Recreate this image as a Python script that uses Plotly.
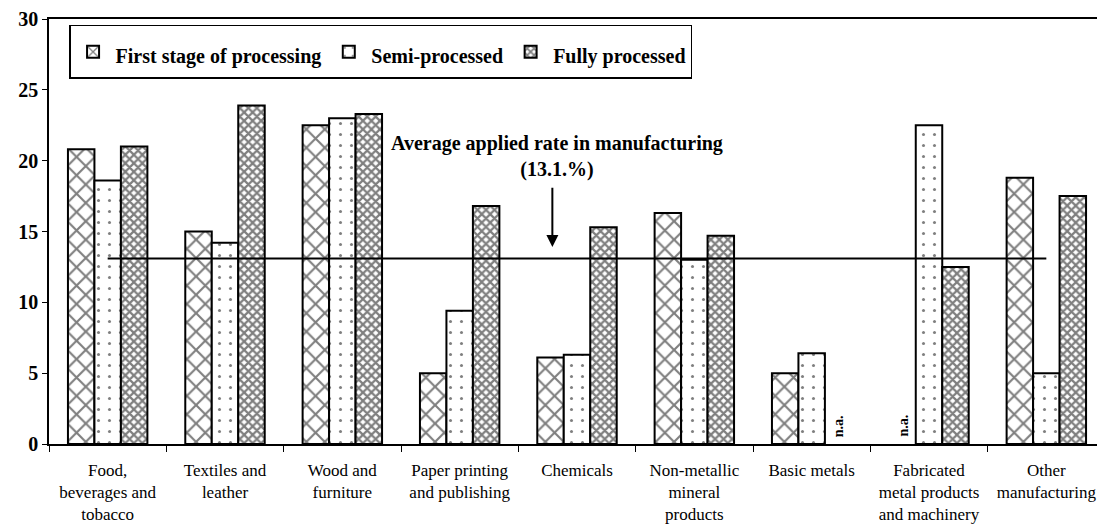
import plotly.graph_objects as go

categories = [
    "Food,<br>beverages and<br>tobacco",
    "Textiles and<br>leather",
    "Wood and<br>furniture",
    "Paper printing<br>and publishing",
    "Chemicals",
    "Non-metallic<br>mineral<br>products",
    "Basic metals",
    "Fabricated<br>metal products<br>and machinery",
    "Other<br>manufacturing",
]
first_stage = [20.8, 15.0, 22.5, 5.0, 6.1, 16.3, 5.0, None, 18.8]
semi_processed = [18.6, 14.2, 23.0, 9.4, 6.3, 13.0, 6.4, 22.5, 5.0]
fully_processed = [21.0, 23.9, 23.3, 16.8, 15.3, 14.7, None, 12.5, 17.5]
series_names = ["First stage of processing", "Semi-processed", "Fully processed"]
average_rate = 13.1
y_ticks = [0, 5, 10, 15, 20, 25, 30]

FONT = "Liberation Serif"

patterns = [
    dict(shape="x", size=13, solidity=0.3, fgcolor="black", bgcolor="white"),
    dict(shape=".", size=11, solidity=0.06, fgcolor="black", bgcolor="white"),
    dict(shape="x", size=6, solidity=0.6, fgcolor="black", bgcolor="white"),
]

fig = go.Figure()
for name, vals, pat in zip(series_names, [first_stage, semi_processed, fully_processed], patterns):
    fig.add_trace(go.Bar(
        name="<span style='font-size:20px'>" + name + "</span>", x=categories, y=vals,
        marker=dict(color="white", line=dict(color="black", width=2), pattern=pat),
    ))

# average line
fig.add_shape(type="line", xref="x", yref="y", x0=0, x1=len(categories) - 1,
              y0=average_rate, y1=average_rate, line=dict(color="black", width=2))

# annotation with arrow
fig.add_annotation(x=3.79, y=13.9, ax=3.79, ay=18.2, xref="x", yref="y", axref="x", ayref="y",
                   text="", showarrow=True, arrowhead=2, arrowsize=1.2, arrowwidth=2, arrowcolor="black")
fig.add_annotation(x=3.83, y=20.3, xref="x", yref="y", showarrow=False,
                   text="Average applied rate in manufacturing<br>(13.1.%)",
                   font=dict(family=FONT, size=20, color="black", weight="bold"), align="center")

# n.a. labels
for i, (a, c) in enumerate(zip(first_stage, fully_processed)):
    if a is None:
        fig.add_annotation(x=categories[i], y=0, xref="x", yref="y", xshift=-26.5, yshift=5,
                           text="n.a.", textangle=-90, showarrow=False, yanchor="bottom",
                           font=dict(family=FONT, size=14, color="black", weight="bold"))
    if c is None:
        fig.add_annotation(x=categories[i], y=0, xref="x", yref="y", xshift=26.5, yshift=5,
                           text="n.a.", textangle=-90, showarrow=False, yanchor="bottom",
                           font=dict(family=FONT, size=14, color="black", weight="bold"))

fig.update_layout(
    width=1097, height=519,
    margin=dict(l=41, r=0, t=6, b=83),
    paper_bgcolor="white", plot_bgcolor="white",
    barmode="group", bargap=0.323, bargroupgap=0,
    font=dict(family=FONT, size=17, color="black"),
    legend=dict(orientation="h", x=0.019, y=0.986, xanchor="left", yanchor="top",
                bordercolor="black", borderwidth=1.5, bgcolor="white",
                font=dict(family=FONT, size=29, color="black", weight="bold"),
                itemwidth=35),
    xaxis=dict(showline=True, linecolor="black", linewidth=1.5, mirror=True,
               ticks="outside", tickson="boundaries", ticklen=6, tickcolor="black",
               tickfont=dict(family=FONT, size=17, color="black"), ticklabelstandoff=10,
               showgrid=False),
    yaxis=dict(range=[0, 30], tickvals=y_ticks, showline=True, linecolor="black", linewidth=1.5,
               ticks="outside", ticklen=5, tickcolor="black", showgrid=False, zeroline=False,
               ticklabeloverflow="allow",
               tickfont=dict(family=FONT, size=20, color="black", weight="bold")),
)

fig.write_html("out.html")
